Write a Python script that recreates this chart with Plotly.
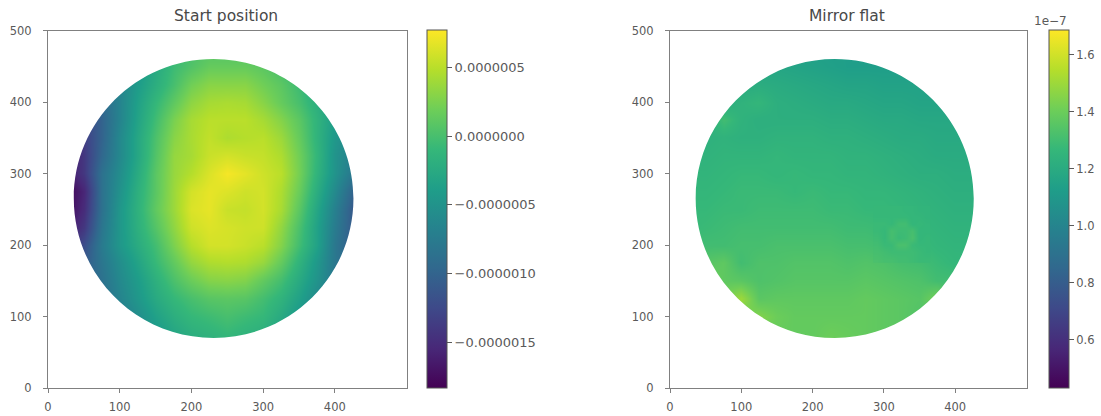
import plotly.graph_objects as go

W, H = 1101, 416
ML, MR, MT, MB = 0, 40, 0, 0
PW = W - ML - MR
PH = H - MT - MB


def fx(px):
    return (px - ML) / PW


def fy(py):
    return 1 - (py - MT) / PH


grid_x = [25, 50, 75, 100, 125, 150, 175, 200, 225, 250, 275, 300, 325, 350, 375, 400, 425, 450]
grid_y = [475, 450, 425, 400, 375, 350, 325, 300, 275, 250, 225, 200, 175, 150, 125, 100, 75, 50]

# values in units of 1e-7
start_z = [
    [-12, -11, -9, -7, -5, -3, -1, 0, 0.5, 0.5, 0.5, 0, -1, -2, -3, -4, -5, -5],
    [-12, -11, -9, -6.5, -4.5, -2.5, -0.5, 0.5, 1.5, 1.5, 1.5, 1, 0, -1, -2.5, -4, -5, -6],
    [-13, -12, -9.5, -6.5, -4, -2, 0, 2, 3, 3, 3, 2, 1, -0.5, -2.5, -4, -5, -6],
    [-14, -12, -9.5, -6.5, -3.5, -1, 1.2, 3.2, 4.2, 4.4, 4.2, 3, 1.5, 0, -2, -4, -5.5, -6.5],
    [-15, -13, -10, -6.5, -3.2, -0.3, 2.4, 4.2, 5, 5, 5, 4.2, 2.8, 1, -1.5, -4, -6, -7],
    [-16, -13.5, -10, -6, -2.8, 0.3, 3, 4.3, 5.3, 4.5, 4.8, 5, 3.8, 1.5, -1.5, -4.5, -6.5, -7.5],
    [-17, -14, -9.5, -6, -2.8, 0.6, 3.5, 4.2, 5.6, 6, 5.6, 5.4, 4.5, 2, -1.2, -5, -7, -8],
    [-17, -14, -8.5, -5.5, -2.3, 1, 3.6, 4.8, 6.3, 7.4, 6.7, 5.8, 5, 2.2, -1.5, -5, -8, -9],
    [-18.3, -15.5, -8.5, -5, -1.8, 1, 3.8, 6, 6.8, 6.4, 5.8, 6, 4.5, 1.7, -2.2, -6, -10, -11],
    [-18, -15, -8.5, -4.5, -1.6, 1.3, 3.8, 6.3, 6.8, 5.6, 5.4, 6, 4.3, 1, -3, -7, -11, -12],
    [-17, -14, -8, -4.5, -1.8, 0.7, 3.3, 5.8, 6.4, 6.1, 5.8, 5.8, 3.4, 0.2, -3.5, -7.5, -11, -12],
    [-15, -12, -7.5, -4.5, -2.3, -0.2, 2.5, 4.8, 6, 6, 5.6, 5, 2.8, -0.3, -3.5, -8, -11, -12],
    [-14, -11, -8, -5.5, -3.2, -0.8, 1.3, 3.4, 4.5, 4.7, 4.5, 3.6, 1.4, -1.5, -4.5, -8, -10, -11],
    [-13, -11, -8.5, -6, -4, -1.8, 0.2, 1.7, 2.8, 3, 2.7, 1.3, -0.2, -2.5, -5, -8, -10, -11],
    [-13, -11, -9, -6.5, -4.5, -2.5, -1, 0, 0.8, 1, 0.8, -0.2, -1.5, -3.5, -6, -8, -10, -10],
    [-13, -12, -10, -7.5, -5.5, -3.5, -2, -1, -0.5, 0, -0.5, -1, -2.5, -4.5, -6.5, -8, -9, -10],
    [-12, -11, -10, -8, -6, -4.5, -3, -2, -1.5, -1, -1.5, -2, -3.5, -5, -6.5, -8, -9, -9],
    [-12, -11, -10, -8, -6.5, -5, -4, -3, -2.5, -2, -2.5, -3, -4, -5.5, -7, -8, -9, -9],
]

mirror_z = [
    [1.15, 1.15, 1.15, 1.14, 1.14, 1.14, 1.14, 1.14, 1.13, 1.13, 1.13, 1.13, 1.12, 1.12, 1.12, 1.12, 1.12, 1.12],
    [1.17, 1.17, 1.17, 1.17, 1.17, 1.17, 1.16, 1.15, 1.14, 1.13, 1.13, 1.13, 1.13, 1.13, 1.13, 1.13, 1.13, 1.13],
    [1.20, 1.20, 1.20, 1.20, 1.21, 1.20, 1.19, 1.18, 1.17, 1.16, 1.16, 1.15, 1.15, 1.15, 1.15, 1.15, 1.15, 1.15],
    [1.21, 1.21, 1.21, 1.24, 1.26, 1.22, 1.21, 1.20, 1.19, 1.19, 1.18, 1.17, 1.17, 1.16, 1.16, 1.16, 1.16, 1.16],
    [1.22, 1.22, 1.30, 1.24, 1.22, 1.22, 1.22, 1.22, 1.21, 1.21, 1.20, 1.19, 1.19, 1.18, 1.18, 1.18, 1.18, 1.18],
    [1.23, 1.23, 1.24, 1.23, 1.23, 1.24, 1.24, 1.24, 1.23, 1.23, 1.22, 1.21, 1.20, 1.20, 1.19, 1.19, 1.19, 1.19],
    [1.24, 1.24, 1.25, 1.25, 1.25, 1.26, 1.25, 1.25, 1.25, 1.24, 1.24, 1.23, 1.22, 1.21, 1.20, 1.20, 1.20, 1.20],
    [1.25, 1.25, 1.26, 1.27, 1.27, 1.26, 1.27, 1.26, 1.26, 1.25, 1.25, 1.24, 1.23, 1.22, 1.22, 1.21, 1.21, 1.21],
    [1.26, 1.26, 1.27, 1.28, 1.28, 1.28, 1.27, 1.28, 1.27, 1.27, 1.26, 1.26, 1.25, 1.24, 1.23, 1.22, 1.22, 1.22],
    [1.27, 1.27, 1.28, 1.28, 1.29, 1.29, 1.29, 1.29, 1.28, 1.28, 1.27, 1.27, 1.26, 1.25, 1.24, 1.23, 1.23, 1.23],
    [1.27, 1.28, 1.29, 1.30, 1.30, 1.30, 1.30, 1.30, 1.30, 1.29, 1.29, 1.28, 1.27, 1.26, 1.25, 1.24, 1.24, 1.24],
    [1.30, 1.30, 1.30, 1.31, 1.31, 1.32, 1.32, 1.32, 1.32, 1.31, 1.31, 1.30, 1.29, 1.28, 1.26, 1.25, 1.25, 1.25],
    [1.35, 1.35, 1.37, 1.30, 1.33, 1.33, 1.34, 1.34, 1.34, 1.33, 1.34, 1.33, 1.31, 1.30, 1.28, 1.26, 1.26, 1.26],
    [1.40, 1.42, 1.37, 1.36, 1.33, 1.34, 1.35, 1.35, 1.35, 1.35, 1.36, 1.35, 1.34, 1.33, 1.30, 1.30, 1.30, 1.30],
    [1.45, 1.45, 1.42, 1.50, 1.36, 1.37, 1.37, 1.37, 1.37, 1.37, 1.38, 1.37, 1.36, 1.35, 1.42, 1.30, 1.30, 1.30],
    [1.45, 1.45, 1.42, 1.40, 1.45, 1.40, 1.38, 1.38, 1.38, 1.38, 1.38, 1.37, 1.36, 1.34, 1.33, 1.30, 1.30, 1.30],
    [1.42, 1.42, 1.42, 1.40, 1.40, 1.39, 1.38, 1.38, 1.40, 1.39, 1.38, 1.37, 1.36, 1.34, 1.33, 1.30, 1.30, 1.30],
    [1.42, 1.42, 1.42, 1.40, 1.40, 1.39, 1.38, 1.38, 1.40, 1.39, 1.38, 1.37, 1.36, 1.34, 1.33, 1.30, 1.30, 1.30],
]

# the faint ring feature on the mirror
ring_x = [290, 300, 310, 320, 330, 340, 350, 360]
ring_y = [250, 240, 230, 220, 210, 200, 190, 180]
ring_z = [
    [1.27, 1.27, 1.27, 1.27, 1.26, 1.26, 1.25, 1.25],
    [1.27, 1.27, 1.27, 1.27, 1.27, 1.26, 1.26, 1.25],
    [1.28, 1.28, 1.27, 1.30, 1.30, 1.26, 1.27, 1.26],
    [1.28, 1.27, 1.31, 1.29, 1.29, 1.31, 1.26, 1.26],
    [1.29, 1.27, 1.31, 1.28, 1.29, 1.32, 1.26, 1.27],
    [1.30, 1.28, 1.28, 1.32, 1.32, 1.28, 1.27, 1.27],
    [1.31, 1.30, 1.29, 1.29, 1.29, 1.29, 1.28, 1.27],
    [1.32, 1.31, 1.31, 1.30, 1.30, 1.29, 1.28, 1.28],
]

axis_ticks = [0, 100, 200, 300, 400]
axis_y_ticks = [0, 100, 200, 300, 400, 500]
start_cb_vals = [5, 0, -5, -10, -15]
start_cb_text = ["0.0000005", "0.0000000", "\u22120.0000005", "\u22120.0000010", "\u22120.0000015"]
mirror_cb_vals = [1.6, 1.4, 1.2, 1.0, 0.8, 0.6]
mirror_cb_text = ["1.6", "1.4", "1.2", "1.0", "0.8", "0.6"]
start_range = (-18.3, 7.7)
mirror_range = (0.43, 1.686)
titles = ["Start position", "Mirror flat"]

# pixel geometry
AX_TOP, AX_BOT = 30.5, 388.0
PANELS = [(48.0, 406.5), (670.0, 1026.5)]
BARS = [(427.0, 446.5), (1049.0, 1068.5)]
TEXT = "#5a5a5a"
LINE = "#808080"
TICK_FONT = dict(family="DejaVu Sans", size=11.5, color=TEXT)


def circle_mask(cx, cy, r):
    k = 0.5523 * r
    return (
        "M 5 30 L 470 30 L 470 495 L 5 495 Z "
        f"M {cx + r} {cy} C {cx + r} {cy + k} {cx + k} {cy + r} {cx} {cy + r} "
        f"C {cx - k} {cy + r} {cx - r} {cy + k} {cx - r} {cy} "
        f"C {cx - r} {cy - k} {cx - k} {cy - r} {cx} {cy - r} "
        f"C {cx + k} {cy - r} {cx + r} {cy - k} {cx + r} {cy} Z"
    )


def colorbar(i, vals, text, size):
    return dict(
        x=fx(BARS[i][0]), xanchor="left", y=fy(AX_BOT), yanchor="bottom",
        len=(AX_BOT - AX_TOP) / PH, lenmode="fraction", thickness=BARS[i][1] - BARS[i][0], thicknessmode="pixels",
        xpad=0, ypad=0, outlinecolor="#555", outlinewidth=1, ticks="outside", ticklen=5, tickcolor=TEXT,
        tickvals=vals, ticktext=text, tickfont=dict(TICK_FONT, size=size),
    )


fig = go.Figure()

fig.add_trace(go.Heatmap(
    x=grid_x, y=grid_y, z=start_z, colorscale="Viridis", zmin=start_range[0], zmax=start_range[1],
    zsmooth="best", hoverinfo="skip", xaxis="x", yaxis="y", colorbar=colorbar(0, start_cb_vals, start_cb_text, 13),
))
fig.add_trace(go.Heatmap(
    x=grid_x, y=grid_y, z=mirror_z, colorscale="Viridis", zmin=mirror_range[0], zmax=mirror_range[1],
    zsmooth="best", hoverinfo="skip", xaxis="x2", yaxis="y2", colorbar=colorbar(1, mirror_cb_vals, mirror_cb_text, 11.5),
))
fig.add_trace(go.Heatmap(
    x=ring_x, y=ring_y, z=ring_z, colorscale="Viridis", zmin=mirror_range[0], zmax=mirror_range[1],
    zsmooth="best", showscale=False, hoverinfo="skip", xaxis="x2", yaxis="y2",
))

axis_common = dict(
    range=[0, 500], showgrid=False, zeroline=False, showline=True, linecolor=LINE, linewidth=1, mirror=True,
    ticks="outside", ticklen=4, tickcolor=LINE, tickfont=TICK_FONT, automargin=False,
)
layout_axes = {}
for i, (x0, x1) in enumerate(PANELS):
    sfx = "" if i == 0 else "2"
    layout_axes[f"xaxis{sfx}"] = dict(axis_common, domain=[fx(x0), fx(x1)], tickvals=axis_ticks, anchor=f"y{sfx}",
                                      ticklabelstandoff=4)
    layout_axes[f"yaxis{sfx}"] = dict(axis_common, domain=[fy(AX_BOT), fy(AX_TOP)], tickvals=axis_y_ticks,
                                      anchor=f"x{sfx}", ticklabelstandoff=9)

TITLE_FONT = dict(family="DejaVu Sans", size=15.5, color="#484848")
annotations = [
    dict(text=titles[0], x=fx(225.5), y=fy(16), xref="paper", yref="paper",
         showarrow=False, font=TITLE_FONT, xanchor="center", yanchor="middle"),
    dict(text=titles[1], x=fx(847), y=fy(16), xref="paper", yref="paper",
         showarrow=False, font=TITLE_FONT, xanchor="center", yanchor="middle"),
    dict(text="1e\u22127", x=fx(1050), y=fy(21), xref="paper", yref="paper", showarrow=False,
         font=dict(TICK_FONT, size=12), xanchor="center", yanchor="middle"),
]

shapes = [
    dict(type="path", path=circle_mask(231, 265, 195), xref="x", yref="y", fillcolor="white",
         fillrule="evenodd", line=dict(width=0), layer="above"),
    dict(type="path", path=circle_mask(231, 265, 195), xref="x2", yref="y2", fillcolor="white",
         fillrule="evenodd", line=dict(width=0), layer="above"),
]

fig.update_layout(
    width=W, height=H, margin=dict(l=ML, r=MR, t=MT, b=MB), paper_bgcolor="white", plot_bgcolor="white",
    showlegend=False, annotations=annotations, shapes=shapes, **layout_axes,
)

fig.write_html("out.html", post_script="document.body.style.margin='0';", config={"displayModeBar": False})
